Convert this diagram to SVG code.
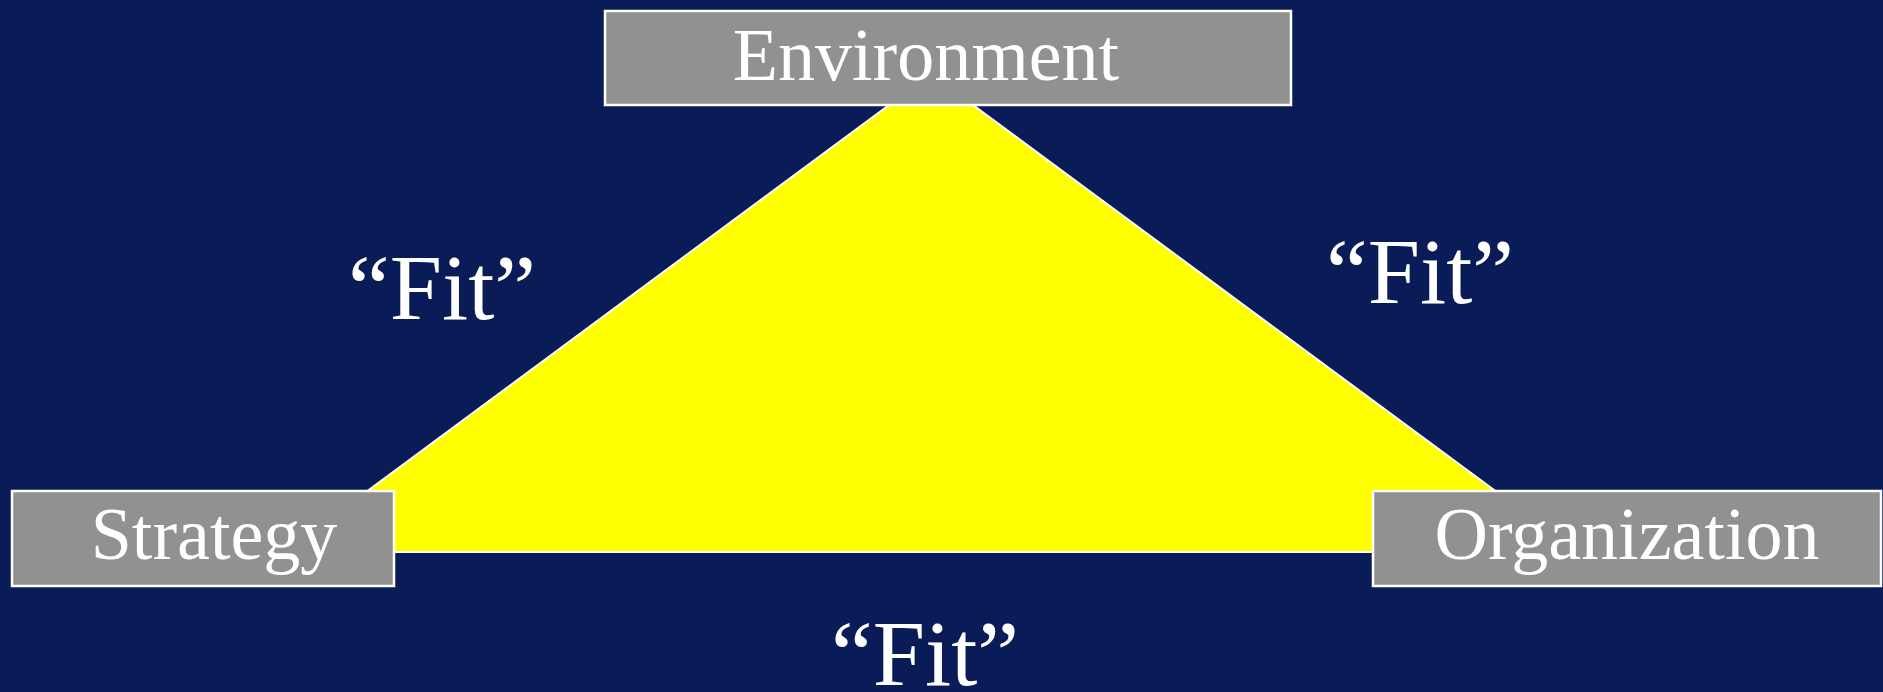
<svg xmlns="http://www.w3.org/2000/svg" width="1883" height="692" viewBox="0 0 1883 692">
<style>
.box{fill:#919191;stroke:#ffffff;stroke-width:2.5}
.lbl{font-family:"Liberation Serif","Times New Roman",serif;fill:#ffffff;text-anchor:middle}
.node{font-size:74px}
.fit{font-size:94px}
</style>
<rect width="1883" height="692" fill="#0A1C57"/>
<g id="connectors">
<polygon points="931,74 285,552 1578,552" fill="#FFFF00" stroke="#ffffff" stroke-width="2"/>
</g>
<g id="environment">
<rect class="box" x="605" y="11" width="686" height="94"/>
<text class="lbl node" x="926" y="80">Environment</text>
</g>
<g id="strategy">
<rect class="box" x="12" y="491" width="382" height="95"/>
<text class="lbl node" x="214" y="559">Strategy</text>
</g>
<g id="organization">
<rect class="box" x="1373" y="491" width="508" height="95"/>
<text class="lbl node" x="1627" y="559">Organization</text>
</g>
<g id="fit-labels">
<text class="lbl fit" x="442" y="319">“Fit”</text>
<text class="lbl fit" x="1420" y="303">“Fit”</text>
<text class="lbl fit" x="925" y="685">“Fit”</text>
</g>
</svg>
